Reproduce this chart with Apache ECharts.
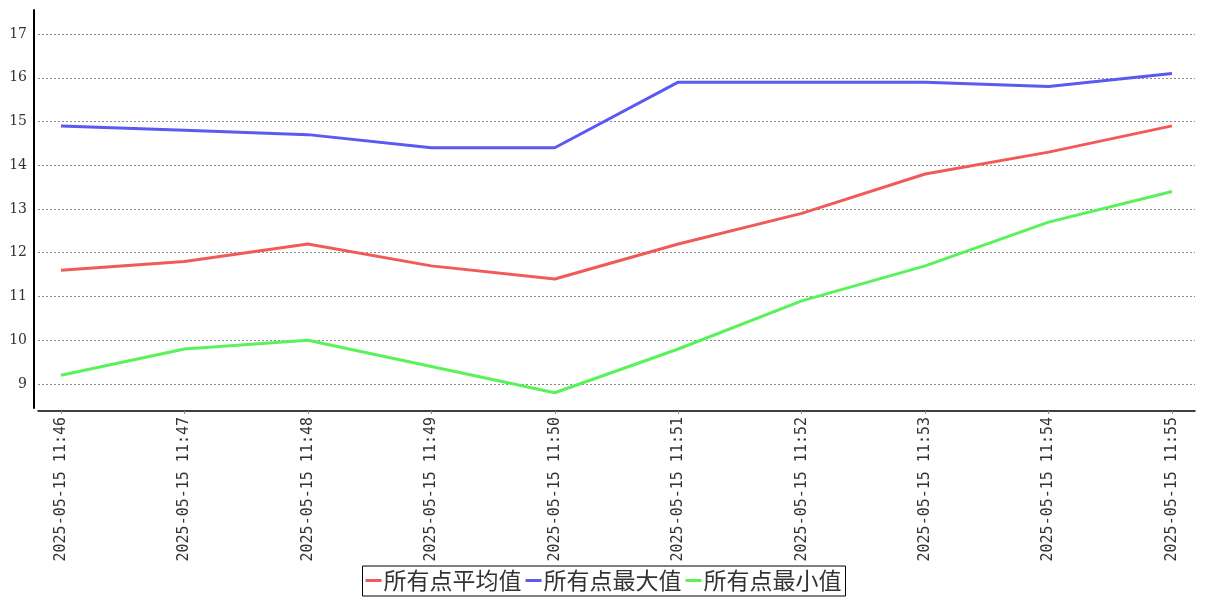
<!DOCTYPE html>
<html>
<head>
<meta charset="utf-8">
<script src="https://cdn.jsdelivr.net/npm/echarts@6/dist/echarts.min.js"></script>
<style>html,body{margin:0;padding:0;background:#fff;}#c{width:1207px;height:600px;}</style>
</head>
<body>
<div id="c"></div>
<script>
const categories = ['2025-05-15 11:46','2025-05-15 11:47','2025-05-15 11:48','2025-05-15 11:49','2025-05-15 11:50','2025-05-15 11:51','2025-05-15 11:52','2025-05-15 11:53','2025-05-15 11:54','2025-05-15 11:55'];
const avgValues = [11.6, 11.8, 12.2, 11.7, 11.4, 12.2, 12.9, 13.8, 14.3, 14.9];
const maxValues = [14.9, 14.8, 14.7, 14.4, 14.4, 15.9, 15.9, 15.9, 15.8, 16.1];
const minValues = [9.2, 9.8, 10.0, 9.4, 8.8, 9.8, 10.9, 11.7, 12.7, 13.4];
const yTicks = [9, 10, 11, 12, 13, 14, 15, 16, 17];
const seriesNames = ['所有点平均值', '所有点最大值', '所有点最小值'];
const colors = ['#f25a5a', '#5a5af2', '#5af25a'];

const idx = categories.map((_, i) => i);
const toPairs = arr => arr.map((v, i) => [i, v]);
const chart = echarts.init(document.getElementById('c'), null, {renderer: 'canvas'});
chart.setOption({
  animation: false,
  backgroundColor: '#fff',
  grid: {left: 38, right: 12, top: 10, height: 398, containLabel: false},
  xAxis: {
    type: 'value',
    min: -0.186, max: 9.186,
    offset: 3,
    axisLine: {show: true, onZero: false, lineStyle: {color: '#000', width: 1.5}},
    axisTick: {show: true, customValues: idx, length: 3, lineStyle: {color: '#888'}},
    axisLabel: {
      customValues: idx, rotate: 90, margin: 6,
      formatter: v => categories[Math.round(v)],
      color: '#333', fontFamily: '"DejaVu Sans Mono", monospace', fontSize: 15
    },
    splitLine: {show: false}
  },
  yAxis: {
    type: 'value',
    min: 8.451, max: 17.549,
    offset: 4,
    axisLine: {show: true, onZero: false, lineStyle: {color: '#000', width: 2}},
    axisTick: {show: false, customValues: yTicks},
    axisLabel: {customValues: yTicks, margin: 7, color: '#333', fontFamily: '"DejaVu Serif", serif', fontSize: 14},
    splitLine: {show: true, lineStyle: {color: '#888', type: [2, 2], width: 1}}
  },
  legend: {
    left: 'center', top: 566,
    data: seriesNames,
    icon: 'rect', itemWidth: 16, itemHeight: 3, itemGap: 4,
    borderColor: '#000', borderWidth: 1, padding: [3, 4, 4, 3],
    textStyle: {fontSize: 23, color: '#333', fontFamily: '"Noto Sans CJK SC"', padding: [0, 0, 0, -3]}
  },
  series: [
    {name: seriesNames[0], type: 'line', data: toPairs(avgValues), showSymbol: false, symbol: 'none', lineStyle: {width: 3, color: colors[0]}, itemStyle: {color: colors[0]}},
    {name: seriesNames[1], type: 'line', data: toPairs(maxValues), showSymbol: false, symbol: 'none', lineStyle: {width: 3, color: colors[1]}, itemStyle: {color: colors[1]}},
    {name: seriesNames[2], type: 'line', data: toPairs(minValues), showSymbol: false, symbol: 'none', lineStyle: {width: 3, color: colors[2]}, itemStyle: {color: colors[2]}}
  ]
});
</script>
</body>
</html>
